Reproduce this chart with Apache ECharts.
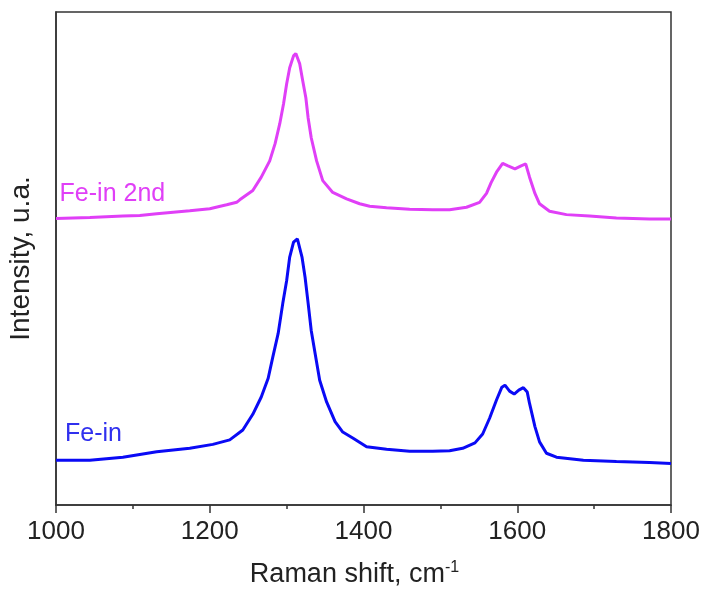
<!DOCTYPE html>
<html>
<head>
<meta charset="utf-8">
<script src="https://cdn.jsdelivr.net/npm/echarts@6/dist/echarts.min.js"></script>
<style>
  html, body { margin: 0; padding: 0; background: #fff; }
  #chart { width: 706px; height: 592px; }
</style>
</head>
<body>
<div id="chart"></div>
<script>
// Raman spectra: Raman shift (cm-1) against relative intensity (arbitrary units)
const shift2nd = [1000, 1044, 1087, 1109, 1131, 1174, 1200, 1222, 1235, 1239, 1256, 1267, 1278, 1285, 1291, 1296, 1300, 1304, 1309, 1312, 1317, 1321, 1325, 1328, 1332, 1339, 1347, 1360, 1378, 1395, 1408, 1430, 1460, 1490, 1512, 1534, 1551, 1560, 1566, 1573, 1581, 1588, 1597, 1605, 1611, 1616, 1623, 1629, 1642, 1664, 1694, 1729, 1772, 1800];
const intensity2nd = [58.1, 58.3, 58.6, 58.7, 59.1, 59.7, 60.1, 60.9, 61.4, 61.9, 63.8, 66.5, 69.8, 73.3, 77.3, 81.4, 85.4, 88.7, 91.1, 91.6, 89.5, 86.0, 82.6, 78.5, 74.5, 69.8, 65.8, 63.4, 62.1, 61.1, 60.6, 60.3, 60.0, 59.9, 59.9, 60.4, 61.4, 63.2, 65.4, 67.5, 69.3, 68.8, 68.2, 68.8, 69.2, 66.5, 63.2, 61.1, 59.6, 58.9, 58.6, 58.2, 58.0, 58.0];

const shiftFeIn = [1000, 1044, 1087, 1131, 1174, 1204, 1226, 1243, 1256, 1267, 1276, 1282, 1289, 1295, 1300, 1304, 1309, 1314, 1320, 1324, 1328, 1332, 1337, 1343, 1352, 1363, 1373, 1386, 1404, 1430, 1460, 1490, 1512, 1529, 1545, 1555, 1564, 1573, 1580, 1584, 1590, 1596, 1602, 1608, 1613, 1616, 1623, 1629, 1638, 1651, 1686, 1729, 1772, 1800];
const intensityFeIn = [9.1, 9.1, 9.7, 10.8, 11.5, 12.3, 13.2, 15.2, 18.4, 21.9, 25.7, 30.0, 34.8, 40.9, 45.5, 50.3, 53.3, 54.0, 50.3, 46.2, 40.9, 35.4, 30.8, 25.3, 20.9, 16.9, 14.8, 13.6, 11.8, 11.3, 10.9, 10.9, 11.0, 11.5, 12.6, 14.4, 17.6, 21.3, 23.9, 24.3, 23.1, 22.5, 23.3, 23.8, 22.9, 20.6, 15.9, 12.8, 10.5, 9.7, 9.1, 8.8, 8.6, 8.4];

const xTicks = [1000, 1800, 200];
const seriesNames = ['Fe-in 2nd', 'Fe-in'];
// label anchors [shift, intensity] for each spectrum's name
const labelAnchors = [[1004, 63.0], [1011, 14.4]];

const MAGENTA = '#e03ff7';
const BLUE = '#0a0af5';
const AXIS = '#333';
const FONT = '"Liberation Sans", Arial, sans-serif';

function pairs(xs, ys) { return xs.map((x, i) => [x, ys[i]]); }

function nameMark(anchor, text, color) {
  return {
    silent: true,
    symbol: 'circle',
    symbolSize: 1,
    itemStyle: { color: 'rgba(0,0,0,0)' },
    data: [{
      coord: anchor,
      label: {
        show: true, formatter: text, position: 'right', distance: 0,
        color: color, fontSize: 25, fontFamily: FONT
      }
    }]
  };
}

const chart = echarts.init(document.getElementById('chart'), null, { renderer: 'canvas' });
chart.setOption({
  animation: false,
  backgroundColor: '#fff',
  grid: {
    left: 56, right: 35, top: 12, bottom: 87,
    outerBoundsMode: 'none', containLabel: false,
    show: true, borderColor: AXIS, borderWidth: 1.5
  },
  xAxis: {
    type: 'value', min: xTicks[0], max: xTicks[1], interval: xTicks[2],
    name: 'Raman shift, cm{sup|-1}', nameLocation: 'middle', nameGap: 55,
    nameTextStyle: {
      color: '#222', fontSize: 27, fontFamily: FONT, padding: [0, 18, 0, 0],
      rich: { sup: { fontSize: 16, verticalAlign: 'top', padding: [0, 0, 14, 0], color: '#222', fontFamily: FONT } }
    },
    axisLine: { lineStyle: { color: AXIS, width: 1.5 } },
    axisTick: { inside: false, length: 8, lineStyle: { color: AXIS, width: 1.5 } },
    minorTick: { show: true, splitNumber: 2, length: 4, lineStyle: { color: AXIS, width: 1.5 } },
    axisLabel: { color: '#222', fontSize: 26, fontFamily: FONT, margin: 14, formatter: v => String(v) },
    splitLine: { show: false }
  },
  yAxis: {
    type: 'value', min: 0, max: 100,
    name: 'Intensity, u.a.', nameLocation: 'middle', nameRotate: 90, nameGap: 21,
    nameTextStyle: { color: '#222', fontSize: 28, fontFamily: FONT },
    axisLine: { show: true, lineStyle: { color: AXIS, width: 1.5 } },
    axisTick: { show: false },
    axisLabel: { show: false },
    splitLine: { show: false }
  },
  series: [
    {
      name: seriesNames[0], type: 'line', showSymbol: false,
      data: pairs(shift2nd, intensity2nd),
      lineStyle: { color: MAGENTA, width: 3 },
      markPoint: nameMark(labelAnchors[0], seriesNames[0], MAGENTA)
    },
    {
      name: seriesNames[1], type: 'line', showSymbol: false,
      data: pairs(shiftFeIn, intensityFeIn),
      lineStyle: { color: BLUE, width: 3 },
      markPoint: nameMark(labelAnchors[1], seriesNames[1], '#3030ee')
    }
  ]
});
</script>
</body>
</html>
